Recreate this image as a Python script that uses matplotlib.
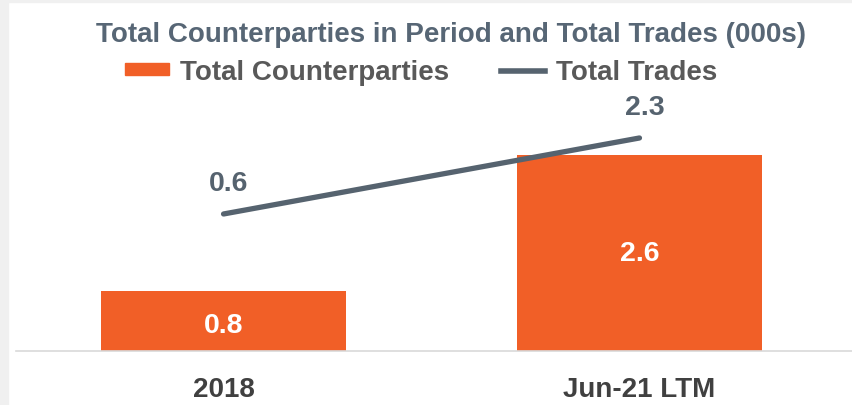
import matplotlib
matplotlib.use('agg')
import matplotlib.pyplot as plt
from matplotlib.patches import Rectangle, Patch
from matplotlib.lines import Line2D

categories = ['2018', 'Jun-21 LTM']
counterparties = [0.8, 2.6]
trades = [0.6, 2.3]

orange = '#f15f27'
slate = '#56636f'

plt.rcParams['font.family'] = ['Liberation Sans', 'DejaVu Sans']
plt.rcParams['font.weight'] = 'bold'

fig = plt.figure(figsize=(8.52, 4.06), dpi=100)
W, H = 852, 406
# axes spans x 16..852, y 100..352 (pixels from top)
ax = fig.add_axes([16 / W, (H - 352) / H, (852 - 16) / W, (352 - 100) / H])
x = list(range(len(categories)))

ax.bar(x, counterparties, width=0.589, color=orange, zorder=2)
ax.set_xlim(-0.499, 1.511)
ax.set_ylim(0, 3.34)
for xi, v in zip(x, counterparties):
    ax.annotate(f'{v:.1f}', (xi, v / 2), ha='center', va='center',
                color='white', fontsize=20.5, fontweight='bold',
                xytext=(0, -3 if v < 1 else 0), textcoords='offset points')

ax2 = ax.twinx()
ax2.plot(x, trades, color=slate, lw=3.8, solid_capstyle='round', zorder=3)
ax2.set_ylim(-2.465, 3.172)
for xi, v in zip(x, trades):
    ax2.annotate(f'{v:.1f}', (xi, v), xytext=(3.5, 22), textcoords='offset points',
                 ha='center', va='center', color=slate, fontsize=20.5, fontweight='bold')

for a in (ax, ax2):
    for s in a.spines.values():
        s.set_visible(False)
    a.set_yticks([])
ax.spines['bottom'].set_visible(True)
ax.spines['bottom'].set_color('#d9d9d9')
ax.spines['bottom'].set_linewidth(1.2)
ax.set_xticks(x)
ax.set_xticklabels(categories, fontsize=20, fontweight='bold', color='#404040')
ax.tick_params(axis='x', length=0, pad=18)

fig.text(451 / W, 1 - 35 / H, 'Total Counterparties in Period and Total Trades (000s)',
         ha='center', va='center', fontsize=20, fontweight='bold', color='#576675')

handles = [Patch(color=orange), Line2D([0], [0], color=slate, lw=4)]
fig.legend(handles, ['Total Counterparties', 'Total Trades'], ncol=2,
           loc='center', bbox_to_anchor=(421 / W, 1 - 73 / H), frameon=False,
           labelcolor='#595959', handlelength=1.6, handleheight=0.28,
           columnspacing=1.85, handletextpad=0.4, prop={'weight': 'bold', 'size': 20})

# light gray frame edges
fig.patches.append(Rectangle((0, 0), 8 / W, 1, transform=fig.transFigure, color='#f0f0f0', zorder=0))
fig.patches.append(Rectangle((0, 1 - 3 / H), 1, 3 / H, transform=fig.transFigure, color='#f0f0f0', zorder=0))

plt.savefig('out.png', dpi=100)
